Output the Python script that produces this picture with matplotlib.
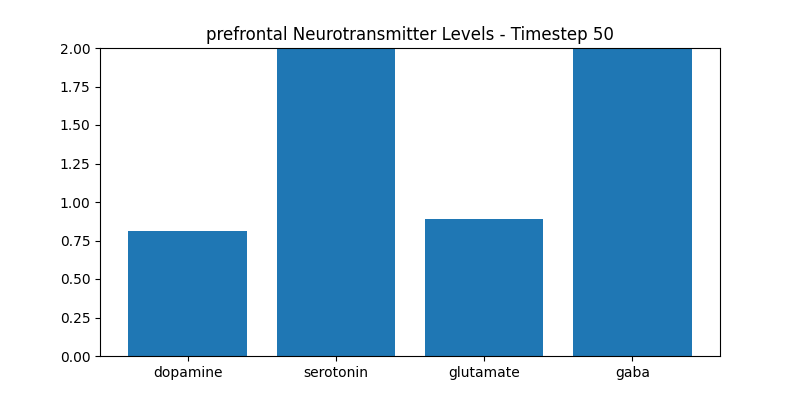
import matplotlib
matplotlib.use("Agg")
import matplotlib.pyplot as plt

# Neurotransmitter levels (serotonin and gaba are clipped at the top)
region = "prefrontal"
timestep = 50
neurotransmitters = ["dopamine", "serotonin", "glutamate", "gaba"]
levels = [0.81, 2.0, 0.89, 2.0]

fig, ax = plt.subplots(figsize=(8, 4), dpi=100)
ax.bar(neurotransmitters, levels)
ax.set_ylim(0, 2)
ax.set_title(f"{region} Neurotransmitter Levels - Timestep {timestep}")
fig.savefig("out.png")
